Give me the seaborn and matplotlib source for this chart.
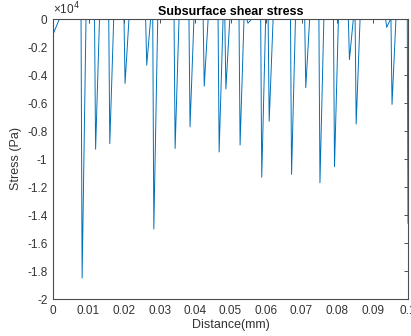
import matplotlib
matplotlib.use("Agg")
import matplotlib.pyplot as plt
import seaborn as sns
import pandas as pd

# Spike data (distance in mm, minimum stress in Pa)
spike_centers = [0.0082, 0.0120, 0.0160, 0.0203, 0.0264, 0.0284, 0.0344, 0.0386,
                 0.0426, 0.0468, 0.0487, 0.0527, 0.0549, 0.0588, 0.0609, 0.0672,
                 0.0712, 0.0752, 0.0793, 0.0835, 0.0854, 0.0940, 0.0955]
spike_mins = [-18500, -9300, -8900, -4600, -3300, -15000, -9250, -7700,
              -4800, -9500, -5000, -9000, -300, -11300, -7300, -11100,
              -4900, -11700, -10550, -2900, -7500, -600, -6100]
start_point = (0.0, -1100)
start_return = 0.0018
end_point = (0.1, -14600)

xticks = [0, 0.01, 0.02, 0.03, 0.04, 0.05, 0.06, 0.07, 0.08, 0.09, 0.1]
xtick_labels = ["0", "0.01", "0.02", "0.03", "0.04", "0.05", "0.06", "0.07", "0.08", "0.09", "0.1"]
yticks = [-20000, -18000, -16000, -14000, -12000, -10000, -8000, -6000, -4000, -2000, 0]
ytick_labels = ["-2", "-1.8", "-1.6", "-1.4", "-1.2", "-1", "-0.8", "-0.6", "-0.4", "-0.2", "0"]

# Build the polyline
xs = [start_point[0], start_return]
ys = [start_point[1], 0]
for c, m in zip(spike_centers, spike_mins):
    xs += [c - 0.0003, c, c + 0.0011]
    ys += [0, m, 0]
xs += [end_point[0] - 0.0002, end_point[0]]
ys += [0, end_point[1]]
df = pd.DataFrame({"Distance": xs, "Stress": ys})

sns.set_theme(style="white")
plt.rcParams["font.family"] = ["Liberation Sans", "DejaVu Sans"]

fig = plt.figure(figsize=(4.11, 3.36), dpi=100)
ax = fig.add_axes([53 / 411, 37 / 336, 355 / 411, 280 / 336])

sns.lineplot(data=df, x="Distance", y="Stress", sort=False, estimator=None,
             color="#0072BD", linewidth=0.7, ax=ax)

ax.set_xlim(0, 0.1)
ax.set_ylim(-20000, 0)
ax.set_xticks(xticks)
ax.set_xticklabels(xtick_labels)
ax.set_yticks(yticks)
ax.set_yticklabels(ytick_labels)

for s in ax.spines.values():
    s.set_visible(True)
    s.set_color("#4d4d4d")
    s.set_linewidth(0.8)

ax.tick_params(direction="in", length=3, width=0.6, top=True, right=True,
               labelsize=8.5, colors="#333333", pad=4)

ax.set_title("Subsurface shear stress", fontsize=9, fontweight="bold", pad=3, color="black")
ax.set_xlabel("Distance(mm)", fontsize=9, color="#333333", labelpad=2)
ax.set_ylabel("Stress (Pa)", fontsize=9, color="#333333", labelpad=4)
ax.text(0.0, 1.005, "\u00d710$^{4}$", transform=ax.transAxes, fontsize=8.5,
        color="#333333", ha="left", va="bottom")

fig.savefig("out.png", dpi=100)
